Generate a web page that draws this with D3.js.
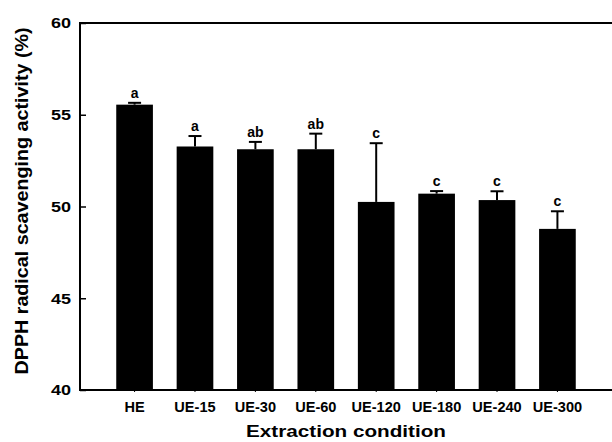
<!DOCTYPE html>
<html><head><meta charset="utf-8">
<script src="https://cdn.jsdelivr.net/npm/d3@7"></script>
<style>body{margin:0;background:#fff}svg{display:block}text{font-family:Arial,"Liberation Sans",sans-serif;font-weight:bold}</style>
</head><body><svg id="c" width="612" height="442"></svg>
<script>
const categories = ["HE","UE-15","UE-30","UE-60","UE-120","UE-180","UE-240","UE-300"];
const values = [55.55,53.27,53.12,53.12,50.25,50.70,50.35,48.78];
const errors = [0.1,0.57,0.4,0.85,3.2,0.14,0.48,0.96];
const letters = ["a","a","ab","ab","c","c","c","c"];
const yTicks = [40,45,50,55,60];

const FONT = "Arial,'Liberation Sans',sans-serif";
const svg = d3.select("#c");
const L=80, R=612, T=23, B=390;
const x = d3.scaleBand().domain(categories).range([L,R]).paddingInner(0.393).paddingOuter(0.6);
const y = d3.scaleLinear().domain([40,60]).range([B,T]);

function stretch(sel, k){
  sel.each(function(){
    const w = this.getComputedTextLength();
    d3.select(this).attr("textLength", w*k).attr("lengthAdjust","spacingAndGlyphs");
  });
}

// bars
svg.selectAll("rect.bar").data(categories).enter().append("rect")
  .attr("x",d=>x(d)).attr("width",x.bandwidth())
  .attr("y",(d,i)=>y(values[i])).attr("height",(d,i)=>B-y(values[i]))
  .attr("fill","#000");

// error bars
const g = svg.append("g").attr("stroke","#000").attr("stroke-width",2);
categories.forEach((c,i)=>{
  const cx = x(c)+x.bandwidth()/2;
  const top = y(values[i]+errors[i]);
  g.append("line").attr("x1",cx).attr("x2",cx).attr("y1",y(values[i])).attr("y2",top);
  g.append("line").attr("x1",cx-6.5).attr("x2",cx+6.5).attr("y1",top).attr("y2",top);
  svg.append("text").attr("x",cx).attr("y",top-5)
    .attr("text-anchor","middle").attr("font-size",14).text(letters[i]);
});

// y axis
const ya = svg.append("g").attr("transform",`translate(${L},0)`)
  .call(d3.axisLeft(y).tickValues(yTicks).tickSize(-6).tickPadding(9).tickFormat(d3.format("d")));
ya.select(".domain").remove();
ya.selectAll("line").attr("stroke","#000").attr("stroke-width",1.5);
ya.selectAll("text").attr("font-size",15).attr("font-weight",700).attr("fill","#000").style("font-family",FONT).style("font-weight","700");
stretch(ya.selectAll("text"),1.2);

// x axis
const xa = svg.append("g").attr("transform",`translate(0,${B})`)
  .call(d3.axisBottom(x).tickSize(2).tickPadding(10));
xa.select(".domain").remove();
xa.selectAll("line").attr("stroke","#000");
xa.selectAll("text").attr("font-size",14).attr("font-weight",700).attr("fill","#000").style("font-family",FONT).style("font-weight","700");
stretch(xa.selectAll("text"),1.04);

// frame
svg.append("path").attr("d",`M${R},${T}H${L}V${B}H${R}`).attr("fill","none").attr("stroke","#000").attr("stroke-width",2);

const xt = svg.append("text").attr("x",346).attr("y",437).attr("text-anchor","middle").attr("font-size",17).text("Extraction condition");
xt.attr("textLength",200).attr("lengthAdjust","spacingAndGlyphs");
const yt = svg.append("text").attr("transform","translate(28,201) rotate(-90)").attr("text-anchor","middle").attr("font-size",18).text("DPPH radical scavenging activity (%)");
yt.attr("textLength",347).attr("lengthAdjust","spacingAndGlyphs");
</script></body></html>
